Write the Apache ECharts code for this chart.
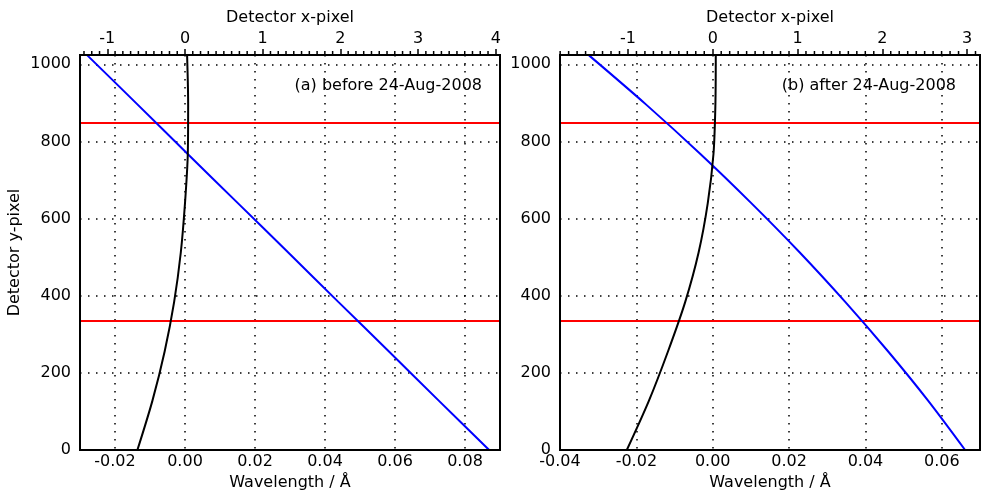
<!DOCTYPE html>
<html lang="en">
<head>
    <meta charset="UTF-8">
    <title>Detector wavelength offsets</title>
    <script src="https://cdn.jsdelivr.net/npm/echarts@6/dist/echarts.min.js"></script>
    <style>
        html, body { margin: 0; padding: 0; background: #fff; }
    </style>
</head>
<body>
<div id="container" style="width:1000px;height:500px"></div>
<script type="text/javascript">
    var rows = [0, 128, 256, 384, 512, 640, 768, 896, 1023];

    // (a) before 24-Aug-2008, wavelength in A
    var blueBefore  = [0.0869, 0.0725, 0.0582, 0.0438, 0.0295, 0.0151, 0.0007, -0.0136, -0.0279];
    var blackBefore = [-0.0136, -0.0093, -0.0058, -0.0031, -0.0012, 0.0000, 0.0008, 0.0009, 0.0006];

    // (b) after 24-Aug-2008
    var blueAfter  = [0.0661, 0.0564, 0.0459, 0.0347, 0.0228, 0.0101, -0.0033, -0.0175, -0.0324];
    var blackAfter = [-0.0225, -0.0167, -0.0117, -0.0072, -0.0037, -0.0013, 0.0002, 0.0007, 0.0008];

    // red limits (detector rows)
    var redRows = [335, 848];

    // axis ticks
    var wlTicksA = [-0.02, 0.00, 0.02, 0.04, 0.06, 0.08];
    var wlTicksB = [-0.04, -0.02, 0.00, 0.02, 0.04, 0.06];
    var pxTicksA = [-1, 0, 1, 2, 3, 4];
    var pxTicksB = [-1, 0, 1, 2, 3];
    var yTicks = [0, 200, 400, 600, 800, 1000];
    var yGrid = [200, 400, 600, 800, 1000];

    var wlRangeA = [-0.03, 0.09];
    var wlRangeB = [-0.04, 0.07];
    var yMax = 1024;
    var dispersion = 0.0222; // A per detector x-pixel

    var FONT = 'DejaVu Sans';

    function pairs(xs) {
        return rows.map(function (r, i) { return [xs[i], r]; });
    }
    // minor tick positions (every 0.1 detector pixel) along the top edge
    function minorTicks(range) {
        var lo = range[0] / dispersion, hi = range[1] / dispersion, out = [];
        for (var v = Math.ceil(lo * 10); v <= Math.floor(hi * 10); v++) {
            if (v % 10 !== 0) out.push([v / 10, yMax]);
        }
        return out;
    }

    var dom = document.getElementById('container');
    var myChart = echarts.init(dom, null, {renderer: 'canvas'});

    var dotted = {color: '#000', width: 1.5, type: [1.5, 6.5]};
    var lbl = {color: '#000', fontFamily: FONT, fontSize: 16};
    var rectA = {left: 80, top: 55, width: 420, height: 395};
    var rectB = {left: 560, top: 55, width: 420, height: 395};

    function wlAxis(grid, range, ticks) {
        var inner = ticks.filter(function (t) { return t > range[0]; });
        return {
            type: 'value', gridIndex: grid, position: 'bottom',
            min: range[0], max: range[1],
            name: 'Wavelength / \u00c5', nameLocation: 'middle', nameGap: 23,
            nameTextStyle: lbl,
            axisLine: {show: false},
            axisTick: {show: false, customValues: inner},
            axisLabel: Object.assign({margin: 4, customValues: ticks,
                formatter: function (v) { return v.toFixed(2); }}, lbl),
            splitLine: {show: true, lineStyle: dotted}
        };
    }
    function pxAxis(grid, range, ticks) {
        return {
            type: 'value', gridIndex: grid, position: 'top',
            min: range[0] / dispersion, max: range[1] / dispersion,
            name: 'Detector x-pixel', nameLocation: 'middle', nameGap: 26,
            nameTextStyle: lbl,
            axisLine: {show: false, onZero: false},
            axisTick: {show: true, length: 6, customValues: ticks, lineStyle: {color: '#000', width: 1.5}},
            axisLabel: Object.assign({margin: 8, customValues: ticks}, lbl),
            splitLine: {show: false}
        };
    }
    function yAxis(grid, withName) {
        return {
            type: 'value', gridIndex: grid, min: 0, max: yMax,
            name: withName ? 'Detector y-pixel' : '', nameLocation: 'middle', nameGap: 57,
            nameTextStyle: lbl,
            axisLine: {show: false},
            axisTick: {show: false, customValues: yGrid},
            axisLabel: Object.assign({margin: 9, customValues: yTicks,
                formatter: function (v) { return String(v); }}, lbl),
            splitLine: {show: true, lineStyle: dotted}
        };
    }
    function curve(name, data, color, xi, yi, withLimits) {
        var s = {
            name: name, type: 'line', data: data,
            xAxisIndex: xi, yAxisIndex: yi,
            showSymbol: false, symbol: 'none', smooth: 0.3,
            lineStyle: {color: color, width: 2}, itemStyle: {color: color},
            z: 5
        };
        if (withLimits) {
            s.markLine = {
                silent: true, symbol: 'none', label: {show: false},
                lineStyle: {color: '#ff0000', width: 2, type: 'solid'},
                data: redRows.map(function (r) { return {yAxis: r}; })
            };
        }
        return s;
    }
    // short vertical strokes above the frame, placed through the top axis scale
    function minorSeries(range, xi, yi) {
        return {
            type: 'custom', data: minorTicks(range),
            xAxisIndex: xi, yAxisIndex: yi,
            clip: false, silent: true, z: 12,
            renderItem: function (params, api) {
                var p = api.coord([api.value(0), api.value(1)]);
                return {
                    type: 'line',
                    shape: {x1: p[0], y1: p[1] - 1, x2: p[0], y2: p[1] - 4},
                    style: {stroke: '#000', lineWidth: 1.5}
                };
            }
        };
    }

    var frame = {show: true, borderColor: '#000', borderWidth: 2, backgroundColor: 'transparent', z: 10};

    var option = {
        animation: false,
        backgroundColor: '#fff',
        textStyle: {fontFamily: FONT},
        grid: [
            Object.assign({}, rectA, frame),
            Object.assign({}, rectB, frame)
        ],
        xAxis: [
            wlAxis(0, wlRangeA, wlTicksA),
            pxAxis(0, wlRangeA, pxTicksA),
            wlAxis(1, wlRangeB, wlTicksB),
            pxAxis(1, wlRangeB, pxTicksB)
        ],
        yAxis: [
            yAxis(0, true),
            yAxis(1, false)
        ],
        series: [
            curve('blue a', pairs(blueBefore), '#0000ff', 0, 0, true),
            curve('black a', pairs(blackBefore), '#000000', 0, 0, false),
            curve('blue b', pairs(blueAfter), '#0000ff', 2, 1, true),
            curve('black b', pairs(blackAfter), '#000000', 2, 1, false),
            minorSeries(wlRangeA, 1, 0),
            minorSeries(wlRangeB, 3, 1)
        ],
        graphic: [
            {type: 'text', x: 482, y: 86, style: {text: '(a) before 24-Aug-2008', fill: '#000', font: '16px "DejaVu Sans"', align: 'right', verticalAlign: 'middle'}},
            {type: 'text', x: 956, y: 86, style: {text: '(b) after 24-Aug-2008', fill: '#000', font: '16px "DejaVu Sans"', align: 'right', verticalAlign: 'middle'}}
        ]
    };

    myChart.setOption(option);
    window.addEventListener('resize', myChart.resize);
</script>
</body>
</html>
